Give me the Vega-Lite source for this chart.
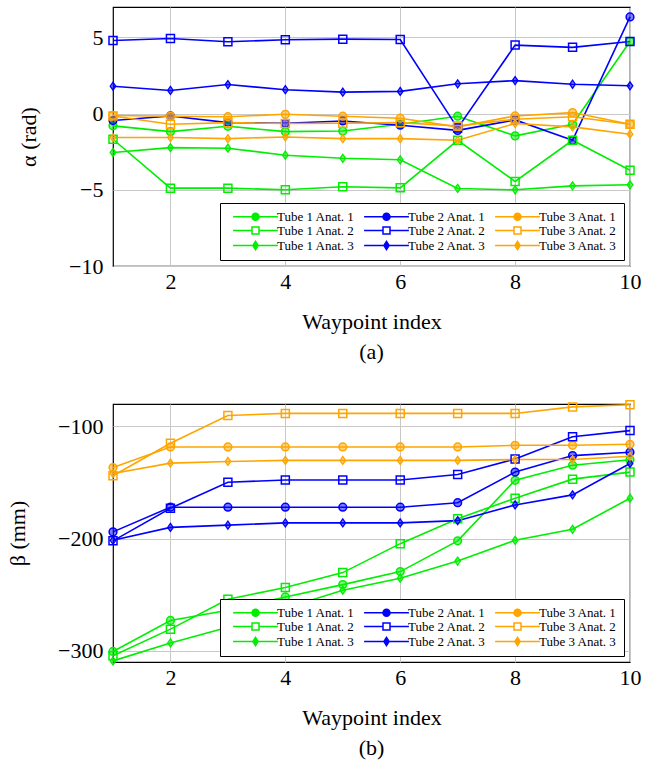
{
  "$schema": "https://vega.github.io/schema/vega-lite/v6.json",
  "background": "white",
  "padding": {"left": 5, "top": 6, "right": 5, "bottom": 5},
  "spacing": 33,
  "resolve": {"scale": {"stroke": "independent", "fill": "independent", "shape": "independent"}, "legend": {"stroke": "independent", "fill": "independent", "shape": "independent"}},
  "datasets": {
    "alpha": [
      {"s":"Tube 1 Anat. 1","a":1,"x":1,"y":-0.8},{"s":"Tube 1 Anat. 1","a":1,"x":2,"y":-1.18},{"s":"Tube 1 Anat. 1","a":1,"x":3,"y":-0.83},{"s":"Tube 1 Anat. 1","a":1,"x":4,"y":-1.18},{"s":"Tube 1 Anat. 1","a":1,"x":5,"y":-1.14},{"s":"Tube 1 Anat. 1","a":1,"x":6,"y":-0.7},{"s":"Tube 1 Anat. 1","a":1,"x":7,"y":-0.17},{"s":"Tube 1 Anat. 1","a":1,"x":8,"y":-1.46},{"s":"Tube 1 Anat. 1","a":1,"x":9,"y":-0.7},{"s":"Tube 1 Anat. 1","a":1,"x":10,"y":4.74},
      {"s":"Tube 1 Anat. 2","a":2,"x":1,"y":-1.68},{"s":"Tube 1 Anat. 2","a":2,"x":2,"y":-4.89},{"s":"Tube 1 Anat. 2","a":2,"x":3,"y":-4.89},{"s":"Tube 1 Anat. 2","a":2,"x":4,"y":-5.0},{"s":"Tube 1 Anat. 2","a":2,"x":5,"y":-4.8},{"s":"Tube 1 Anat. 2","a":2,"x":6,"y":-4.87},{"s":"Tube 1 Anat. 2","a":2,"x":7,"y":-1.75},{"s":"Tube 1 Anat. 2","a":2,"x":8,"y":-4.45},{"s":"Tube 1 Anat. 2","a":2,"x":9,"y":-1.75},{"s":"Tube 1 Anat. 2","a":2,"x":10,"y":-3.71},
      {"s":"Tube 1 Anat. 3","a":3,"x":1,"y":-2.55},{"s":"Tube 1 Anat. 3","a":3,"x":2,"y":-2.23},{"s":"Tube 1 Anat. 3","a":3,"x":3,"y":-2.27},{"s":"Tube 1 Anat. 3","a":3,"x":4,"y":-2.73},{"s":"Tube 1 Anat. 3","a":3,"x":5,"y":-2.93},{"s":"Tube 1 Anat. 3","a":3,"x":6,"y":-3.03},{"s":"Tube 1 Anat. 3","a":3,"x":7,"y":-4.91},{"s":"Tube 1 Anat. 3","a":3,"x":8,"y":-5.0},{"s":"Tube 1 Anat. 3","a":3,"x":9,"y":-4.74},{"s":"Tube 1 Anat. 3","a":3,"x":10,"y":-4.67},
      {"s":"Tube 2 Anat. 1","a":1,"x":1,"y":-0.45},{"s":"Tube 2 Anat. 1","a":1,"x":2,"y":-0.15},{"s":"Tube 2 Anat. 1","a":1,"x":3,"y":-0.59},{"s":"Tube 2 Anat. 1","a":1,"x":4,"y":-0.63},{"s":"Tube 2 Anat. 1","a":1,"x":5,"y":-0.48},{"s":"Tube 2 Anat. 1","a":1,"x":6,"y":-0.76},{"s":"Tube 2 Anat. 1","a":1,"x":7,"y":-1.1},{"s":"Tube 2 Anat. 1","a":1,"x":8,"y":-0.41},{"s":"Tube 2 Anat. 1","a":1,"x":9,"y":-1.75},{"s":"Tube 2 Anat. 1","a":1,"x":10,"y":6.35},
      {"s":"Tube 2 Anat. 2","a":2,"x":1,"y":4.8},{"s":"Tube 2 Anat. 2","a":2,"x":2,"y":4.93},{"s":"Tube 2 Anat. 2","a":2,"x":3,"y":4.72},{"s":"Tube 2 Anat. 2","a":2,"x":4,"y":4.85},{"s":"Tube 2 Anat. 2","a":2,"x":5,"y":4.89},{"s":"Tube 2 Anat. 2","a":2,"x":6,"y":4.87},{"s":"Tube 2 Anat. 2","a":2,"x":7,"y":-0.95},{"s":"Tube 2 Anat. 2","a":2,"x":8,"y":4.5},{"s":"Tube 2 Anat. 2","a":2,"x":9,"y":4.35},{"s":"Tube 2 Anat. 2","a":2,"x":10,"y":4.74},
      {"s":"Tube 2 Anat. 3","a":3,"x":1,"y":1.8},{"s":"Tube 2 Anat. 3","a":3,"x":2,"y":1.52},{"s":"Tube 2 Anat. 3","a":3,"x":3,"y":1.91},{"s":"Tube 2 Anat. 3","a":3,"x":4,"y":1.57},{"s":"Tube 2 Anat. 3","a":3,"x":5,"y":1.41},{"s":"Tube 2 Anat. 3","a":3,"x":6,"y":1.46},{"s":"Tube 2 Anat. 3","a":3,"x":7,"y":1.96},{"s":"Tube 2 Anat. 3","a":3,"x":8,"y":2.17},{"s":"Tube 2 Anat. 3","a":3,"x":9,"y":1.93},{"s":"Tube 2 Anat. 3","a":3,"x":10,"y":1.83},
      {"s":"Tube 3 Anat. 1","a":1,"x":1,"y":-0.12},{"s":"Tube 3 Anat. 1","a":1,"x":2,"y":-0.17},{"s":"Tube 3 Anat. 1","a":1,"x":3,"y":-0.2},{"s":"Tube 3 Anat. 1","a":1,"x":4,"y":-0.04},{"s":"Tube 3 Anat. 1","a":1,"x":5,"y":-0.17},{"s":"Tube 3 Anat. 1","a":1,"x":6,"y":-0.3},{"s":"Tube 3 Anat. 1","a":1,"x":7,"y":-0.87},{"s":"Tube 3 Anat. 1","a":1,"x":8,"y":-0.15},{"s":"Tube 3 Anat. 1","a":1,"x":9,"y":0.07},{"s":"Tube 3 Anat. 1","a":1,"x":10,"y":-0.7},
      {"s":"Tube 3 Anat. 2","a":2,"x":1,"y":-0.15},{"s":"Tube 3 Anat. 2","a":2,"x":2,"y":-0.7},{"s":"Tube 3 Anat. 2","a":2,"x":3,"y":-0.59},{"s":"Tube 3 Anat. 2","a":2,"x":4,"y":-0.65},{"s":"Tube 3 Anat. 2","a":2,"x":5,"y":-0.63},{"s":"Tube 3 Anat. 2","a":2,"x":6,"y":-0.59},{"s":"Tube 3 Anat. 2","a":2,"x":7,"y":-0.81},{"s":"Tube 3 Anat. 2","a":2,"x":8,"y":-0.37},{"s":"Tube 3 Anat. 2","a":2,"x":9,"y":-0.2},{"s":"Tube 3 Anat. 2","a":2,"x":10,"y":-0.7},
      {"s":"Tube 3 Anat. 3","a":3,"x":1,"y":-1.57},{"s":"Tube 3 Anat. 3","a":3,"x":2,"y":-1.57},{"s":"Tube 3 Anat. 3","a":3,"x":3,"y":-1.64},{"s":"Tube 3 Anat. 3","a":3,"x":4,"y":-1.53},{"s":"Tube 3 Anat. 3","a":3,"x":5,"y":-1.64},{"s":"Tube 3 Anat. 3","a":3,"x":6,"y":-1.64},{"s":"Tube 3 Anat. 3","a":3,"x":7,"y":-1.75},{"s":"Tube 3 Anat. 3","a":3,"x":8,"y":-0.65},{"s":"Tube 3 Anat. 3","a":3,"x":9,"y":-0.87},{"s":"Tube 3 Anat. 3","a":3,"x":10,"y":-1.35}
    ],
    "beta": [
      {"s":"Tube 1 Anat. 1","a":1,"x":1,"y":-300.6},{"s":"Tube 1 Anat. 1","a":1,"x":2,"y":-273},{"s":"Tube 1 Anat. 1","a":1,"x":3,"y":-263.8},{"s":"Tube 1 Anat. 1","a":1,"x":4,"y":-252},{"s":"Tube 1 Anat. 1","a":1,"x":5,"y":-241},{"s":"Tube 1 Anat. 1","a":1,"x":6,"y":-229.4},{"s":"Tube 1 Anat. 1","a":1,"x":7,"y":-202},{"s":"Tube 1 Anat. 1","a":1,"x":8,"y":-148},{"s":"Tube 1 Anat. 1","a":1,"x":9,"y":-134.6},{"s":"Tube 1 Anat. 1","a":1,"x":10,"y":-129.7},
      {"s":"Tube 1 Anat. 2","a":2,"x":1,"y":-304.5},{"s":"Tube 1 Anat. 2","a":2,"x":2,"y":-280.7},{"s":"Tube 1 Anat. 2","a":2,"x":3,"y":-254},{"s":"Tube 1 Anat. 2","a":2,"x":4,"y":-243.6},{"s":"Tube 1 Anat. 2","a":2,"x":5,"y":-230.3},{"s":"Tube 1 Anat. 2","a":2,"x":6,"y":-204.5},{"s":"Tube 1 Anat. 2","a":2,"x":7,"y":-182.2},{"s":"Tube 1 Anat. 2","a":2,"x":8,"y":-164},{"s":"Tube 1 Anat. 2","a":2,"x":9,"y":-147},{"s":"Tube 1 Anat. 2","a":2,"x":10,"y":-140.7},
      {"s":"Tube 1 Anat. 3","a":3,"x":1,"y":-309},{"s":"Tube 1 Anat. 3","a":3,"x":2,"y":-293},{"s":"Tube 1 Anat. 3","a":3,"x":3,"y":-279},{"s":"Tube 1 Anat. 3","a":3,"x":4,"y":-262},{"s":"Tube 1 Anat. 3","a":3,"x":5,"y":-246},{"s":"Tube 1 Anat. 3","a":3,"x":6,"y":-235.3},{"s":"Tube 1 Anat. 3","a":3,"x":7,"y":-220},{"s":"Tube 1 Anat. 3","a":3,"x":8,"y":-201.5},{"s":"Tube 1 Anat. 3","a":3,"x":9,"y":-191.7},{"s":"Tube 1 Anat. 3","a":3,"x":10,"y":-164},
      {"s":"Tube 2 Anat. 1","a":1,"x":1,"y":-194},{"s":"Tube 2 Anat. 1","a":1,"x":2,"y":-172},{"s":"Tube 2 Anat. 1","a":1,"x":3,"y":-172},{"s":"Tube 2 Anat. 1","a":1,"x":4,"y":-172},{"s":"Tube 2 Anat. 1","a":1,"x":5,"y":-172},{"s":"Tube 2 Anat. 1","a":1,"x":6,"y":-172},{"s":"Tube 2 Anat. 1","a":1,"x":7,"y":-168},{"s":"Tube 2 Anat. 1","a":1,"x":8,"y":-140.7},{"s":"Tube 2 Anat. 1","a":1,"x":9,"y":-126},{"s":"Tube 2 Anat. 1","a":1,"x":10,"y":-123},
      {"s":"Tube 2 Anat. 2","a":2,"x":1,"y":-202},{"s":"Tube 2 Anat. 2","a":2,"x":2,"y":-173},{"s":"Tube 2 Anat. 2","a":2,"x":3,"y":-149.8},{"s":"Tube 2 Anat. 2","a":2,"x":4,"y":-147.7},{"s":"Tube 2 Anat. 2","a":2,"x":5,"y":-147.7},{"s":"Tube 2 Anat. 2","a":2,"x":6,"y":-147.7},{"s":"Tube 2 Anat. 2","a":2,"x":7,"y":-142.8},{"s":"Tube 2 Anat. 2","a":2,"x":8,"y":-129},{"s":"Tube 2 Anat. 2","a":2,"x":9,"y":-109.2},{"s":"Tube 2 Anat. 2","a":2,"x":10,"y":-103.7},
      {"s":"Tube 2 Anat. 3","a":3,"x":1,"y":-201.5},{"s":"Tube 2 Anat. 3","a":3,"x":2,"y":-190},{"s":"Tube 2 Anat. 3","a":3,"x":3,"y":-188},{"s":"Tube 2 Anat. 3","a":3,"x":4,"y":-186},{"s":"Tube 2 Anat. 3","a":3,"x":5,"y":-186},{"s":"Tube 2 Anat. 3","a":3,"x":6,"y":-186},{"s":"Tube 2 Anat. 3","a":3,"x":7,"y":-184},{"s":"Tube 2 Anat. 3","a":3,"x":8,"y":-170},{"s":"Tube 2 Anat. 3","a":3,"x":9,"y":-161},{"s":"Tube 2 Anat. 3","a":3,"x":10,"y":-133},
      {"s":"Tube 3 Anat. 1","a":1,"x":1,"y":-136.7},{"s":"Tube 3 Anat. 1","a":1,"x":2,"y":-118.3},{"s":"Tube 3 Anat. 1","a":1,"x":3,"y":-118.3},{"s":"Tube 3 Anat. 1","a":1,"x":4,"y":-118.3},{"s":"Tube 3 Anat. 1","a":1,"x":5,"y":-118.3},{"s":"Tube 3 Anat. 1","a":1,"x":6,"y":-118.3},{"s":"Tube 3 Anat. 1","a":1,"x":7,"y":-118.3},{"s":"Tube 3 Anat. 1","a":1,"x":8,"y":-116.8},{"s":"Tube 3 Anat. 1","a":1,"x":9,"y":-116.8},{"s":"Tube 3 Anat. 1","a":1,"x":10,"y":-115.9},
      {"s":"Tube 3 Anat. 2","a":2,"x":1,"y":-144},{"s":"Tube 3 Anat. 2","a":2,"x":2,"y":-115},{"s":"Tube 3 Anat. 2","a":2,"x":3,"y":-90.2},{"s":"Tube 3 Anat. 2","a":2,"x":4,"y":-88.4},{"s":"Tube 3 Anat. 2","a":2,"x":5,"y":-88.4},{"s":"Tube 3 Anat. 2","a":2,"x":6,"y":-88.4},{"s":"Tube 3 Anat. 2","a":2,"x":7,"y":-88.4},{"s":"Tube 3 Anat. 2","a":2,"x":8,"y":-88.4},{"s":"Tube 3 Anat. 2","a":2,"x":9,"y":-82.6},{"s":"Tube 3 Anat. 2","a":2,"x":10,"y":-80.7},
      {"s":"Tube 3 Anat. 3","a":3,"x":1,"y":-142},{"s":"Tube 3 Anat. 3","a":3,"x":2,"y":-132.7},{"s":"Tube 3 Anat. 3","a":3,"x":3,"y":-131.2},{"s":"Tube 3 Anat. 3","a":3,"x":4,"y":-130.3},{"s":"Tube 3 Anat. 3","a":3,"x":5,"y":-130.3},{"s":"Tube 3 Anat. 3","a":3,"x":6,"y":-130.3},{"s":"Tube 3 Anat. 3","a":3,"x":7,"y":-130.3},{"s":"Tube 3 Anat. 3","a":3,"x":8,"y":-129.5},{"s":"Tube 3 Anat. 3","a":3,"x":9,"y":-129.5},{"s":"Tube 3 Anat. 3","a":3,"x":10,"y":-126.6}
    ]
  },
  "vconcat": [
    {
      "width": 517, "height": 259,
      "data": {"name": "alpha"},
      "title": {"text": "(a)", "orient": "bottom", "anchor": "middle", "offset": 10},
      "encoding": {
        "x": {"field": "x", "type": "quantitative", "scale": {"domain": [1, 10], "nice": false, "zero": false}, "axis": {"title": "Waypoint index", "values": [2, 4, 6, 8, 10]}},
        "y": {"field": "y", "type": "quantitative", "scale": {"domain": [-10, 7], "nice": false, "zero": false}, "axis": {"title": "α (rad)", "values": [-10, -5, 0, 5]}}
      },
      "layer": [
        {"mark": {"type": "line", "strokeWidth": 1.6}, "encoding": {"stroke": {"field": "s", "type": "nominal", "title": null, "scale": {"domain": ["Tube 1 Anat. 1","Tube 1 Anat. 2","Tube 1 Anat. 3","Tube 2 Anat. 1","Tube 2 Anat. 2","Tube 2 Anat. 3","Tube 3 Anat. 1","Tube 3 Anat. 2","Tube 3 Anat. 3"], "range": ["#00ee00","#00ee00","#00ee00","#0000ff","#0000ff","#0000ff","#ffa500","#ffa500","#ffa500"]}}}},
        {"transform": [{"filter": "datum.a == 1"}], "mark": {"type": "point", "shape": "circle", "size": 60, "opacity": 1, "strokeWidth": 1.5, "fillOpacity": 0.5}, "encoding": {"stroke": {"field": "s", "type": "nominal", "title": null}, "fill": {"field": "s", "type": "nominal", "title": null, "scale": {"domain": ["Tube 1 Anat. 1","Tube 1 Anat. 2","Tube 1 Anat. 3","Tube 2 Anat. 1","Tube 2 Anat. 2","Tube 2 Anat. 3","Tube 3 Anat. 1","Tube 3 Anat. 2","Tube 3 Anat. 3"], "range": ["#00ee00","transparent","#00ee00","#0000ff","transparent","#0000ff","#ffa500","transparent","#ffa500"]}}}},
        {"transform": [{"filter": "datum.a == 2"}], "mark": {"type": "point", "shape": "square", "size": 64, "opacity": 1, "strokeWidth": 1.5, "filled": false}, "encoding": {"stroke": {"field": "s", "type": "nominal", "title": null}}},
        {"transform": [{"filter": "datum.a == 3"}], "mark": {"type": "point", "shape": "M0,-1L0.7,0L0,1L-0.7,0Z", "size": 64, "opacity": 1, "strokeWidth": 1.3, "fillOpacity": 0.5}, "encoding": {"stroke": {"field": "s", "type": "nominal", "title": null}, "fill": {"field": "s", "type": "nominal", "title": null}}},
        {"transform": [{"filter": "false"}], "mark": {"type": "point", "size": 49, "opacity": 1, "strokeWidth": 1.5}, "encoding": {"x": null, "y": null, "shape": {"field": "s", "type": "nominal", "title": null, "scale": {"domain": ["Tube 1 Anat. 1","Tube 1 Anat. 2","Tube 1 Anat. 3","Tube 2 Anat. 1","Tube 2 Anat. 2","Tube 2 Anat. 3","Tube 3 Anat. 1","Tube 3 Anat. 2","Tube 3 Anat. 3"], "range": ["M-6.4,0H6.4M1,0A1,1,0,1,1,-1,0A1,1,0,1,1,1,0Z","M-6.4,0H-1M1,0H6.4M-1,-1H1V1H-1Z","M-6.4,0H6.4M0,-1.2L0.75,0L0,1.2L-0.75,0Z","M-6.4,0H6.4M1,0A1,1,0,1,1,-1,0A1,1,0,1,1,1,0Z","M-6.4,0H-1M1,0H6.4M-1,-1H1V1H-1Z","M-6.4,0H6.4M0,-1.2L0.75,0L0,1.2L-0.75,0Z","M-6.4,0H6.4M1,0A1,1,0,1,1,-1,0A1,1,0,1,1,1,0Z","M-6.4,0H-1M1,0H6.4M-1,-1H1V1H-1Z","M-6.4,0H6.4M0,-1.2L0.75,0L0,1.2L-0.75,0Z"]}}, "stroke": {"field": "s", "type": "nominal", "title": null}, "fill": {"field": "s", "type": "nominal", "title": null}}}
      ]
    },
    {
      "width": 517, "height": 258,
      "data": {"name": "beta"},
      "title": {"text": "(b)", "orient": "bottom", "anchor": "middle", "offset": 10},
      "encoding": {
        "x": {"field": "x", "type": "quantitative", "scale": {"domain": [1, 10], "nice": false, "zero": false}, "axis": {"title": "Waypoint index", "values": [2, 4, 6, 8, 10]}},
        "y": {"field": "y", "type": "quantitative", "scale": {"domain": [-310, -80], "nice": false, "zero": false}, "axis": {"title": "β (mm)", "values": [-300, -200, -100]}}
      },
      "layer": [
        {"mark": {"type": "line", "strokeWidth": 1.6}, "encoding": {"stroke": {"field": "s", "type": "nominal", "title": null, "scale": {"domain": ["Tube 1 Anat. 1","Tube 1 Anat. 2","Tube 1 Anat. 3","Tube 2 Anat. 1","Tube 2 Anat. 2","Tube 2 Anat. 3","Tube 3 Anat. 1","Tube 3 Anat. 2","Tube 3 Anat. 3"], "range": ["#00ee00","#00ee00","#00ee00","#0000ff","#0000ff","#0000ff","#ffa500","#ffa500","#ffa500"]}}}},
        {"transform": [{"filter": "datum.a == 1"}], "mark": {"type": "point", "shape": "circle", "size": 60, "opacity": 1, "strokeWidth": 1.5, "fillOpacity": 0.5}, "encoding": {"stroke": {"field": "s", "type": "nominal", "title": null}, "fill": {"field": "s", "type": "nominal", "title": null, "scale": {"domain": ["Tube 1 Anat. 1","Tube 1 Anat. 2","Tube 1 Anat. 3","Tube 2 Anat. 1","Tube 2 Anat. 2","Tube 2 Anat. 3","Tube 3 Anat. 1","Tube 3 Anat. 2","Tube 3 Anat. 3"], "range": ["#00ee00","transparent","#00ee00","#0000ff","transparent","#0000ff","#ffa500","transparent","#ffa500"]}}}},
        {"transform": [{"filter": "datum.a == 2"}], "mark": {"type": "point", "shape": "square", "size": 64, "opacity": 1, "strokeWidth": 1.5, "filled": false}, "encoding": {"stroke": {"field": "s", "type": "nominal", "title": null}}},
        {"transform": [{"filter": "datum.a == 3"}], "mark": {"type": "point", "shape": "M0,-1L0.7,0L0,1L-0.7,0Z", "size": 64, "opacity": 1, "strokeWidth": 1.3, "fillOpacity": 0.5}, "encoding": {"stroke": {"field": "s", "type": "nominal", "title": null}, "fill": {"field": "s", "type": "nominal", "title": null}}},
        {"transform": [{"filter": "false"}], "mark": {"type": "point", "size": 49, "opacity": 1, "strokeWidth": 1.5}, "encoding": {"x": null, "y": null, "shape": {"field": "s", "type": "nominal", "title": null, "scale": {"domain": ["Tube 1 Anat. 1","Tube 1 Anat. 2","Tube 1 Anat. 3","Tube 2 Anat. 1","Tube 2 Anat. 2","Tube 2 Anat. 3","Tube 3 Anat. 1","Tube 3 Anat. 2","Tube 3 Anat. 3"], "range": ["M-6.4,0H6.4M1,0A1,1,0,1,1,-1,0A1,1,0,1,1,1,0Z","M-6.4,0H-1M1,0H6.4M-1,-1H1V1H-1Z","M-6.4,0H6.4M0,-1.2L0.75,0L0,1.2L-0.75,0Z","M-6.4,0H6.4M1,0A1,1,0,1,1,-1,0A1,1,0,1,1,1,0Z","M-6.4,0H-1M1,0H6.4M-1,-1H1V1H-1Z","M-6.4,0H6.4M0,-1.2L0.75,0L0,1.2L-0.75,0Z","M-6.4,0H6.4M1,0A1,1,0,1,1,-1,0A1,1,0,1,1,1,0Z","M-6.4,0H-1M1,0H6.4M-1,-1H1V1H-1Z","M-6.4,0H6.4M0,-1.2L0.75,0L0,1.2L-0.75,0Z"]}}, "stroke": {"field": "s", "type": "nominal", "title": null}, "fill": {"field": "s", "type": "nominal", "title": null}}}
      ]
    }
  ],
  "config": {
    "font": "Liberation Serif, DejaVu Serif, serif",
    "view": {"stroke": "black", "strokeWidth": 1.2},
    "axis": {"labelFont": "Liberation Serif, DejaVu Serif, serif", "titleFont": "Liberation Serif, DejaVu Serif, serif", "labelFontSize": 22, "titleFontSize": 22, "titleFontWeight": "normal", "labelColor": "black", "titleColor": "black", "gridColor": "#c8c8c8", "gridWidth": 1, "domain": false, "ticks": false},
    "axisX": {"labelPadding": 5, "titlePadding": 19, "labelFlush": false},
    "axisY": {"labelPadding": 10, "titlePadding": 28},
    "legend": {"orient": "bottom-right", "offset": 6, "columns": 3, "strokeColor": "black", "fillColor": "white", "padding": 7, "labelFont": "Liberation Serif, DejaVu Serif, serif", "labelFontSize": 13, "labelColor": "black", "symbolSize": 49, "symbolStrokeWidth": 1.5, "symbolOffset": 22, "labelOffset": 15, "columnPadding": 3, "rowPadding": 0, "labelLimit": 300},
    "title": {"font": "Liberation Serif, DejaVu Serif, serif", "fontSize": 22, "fontWeight": "normal", "color": "black"}
  }
}
